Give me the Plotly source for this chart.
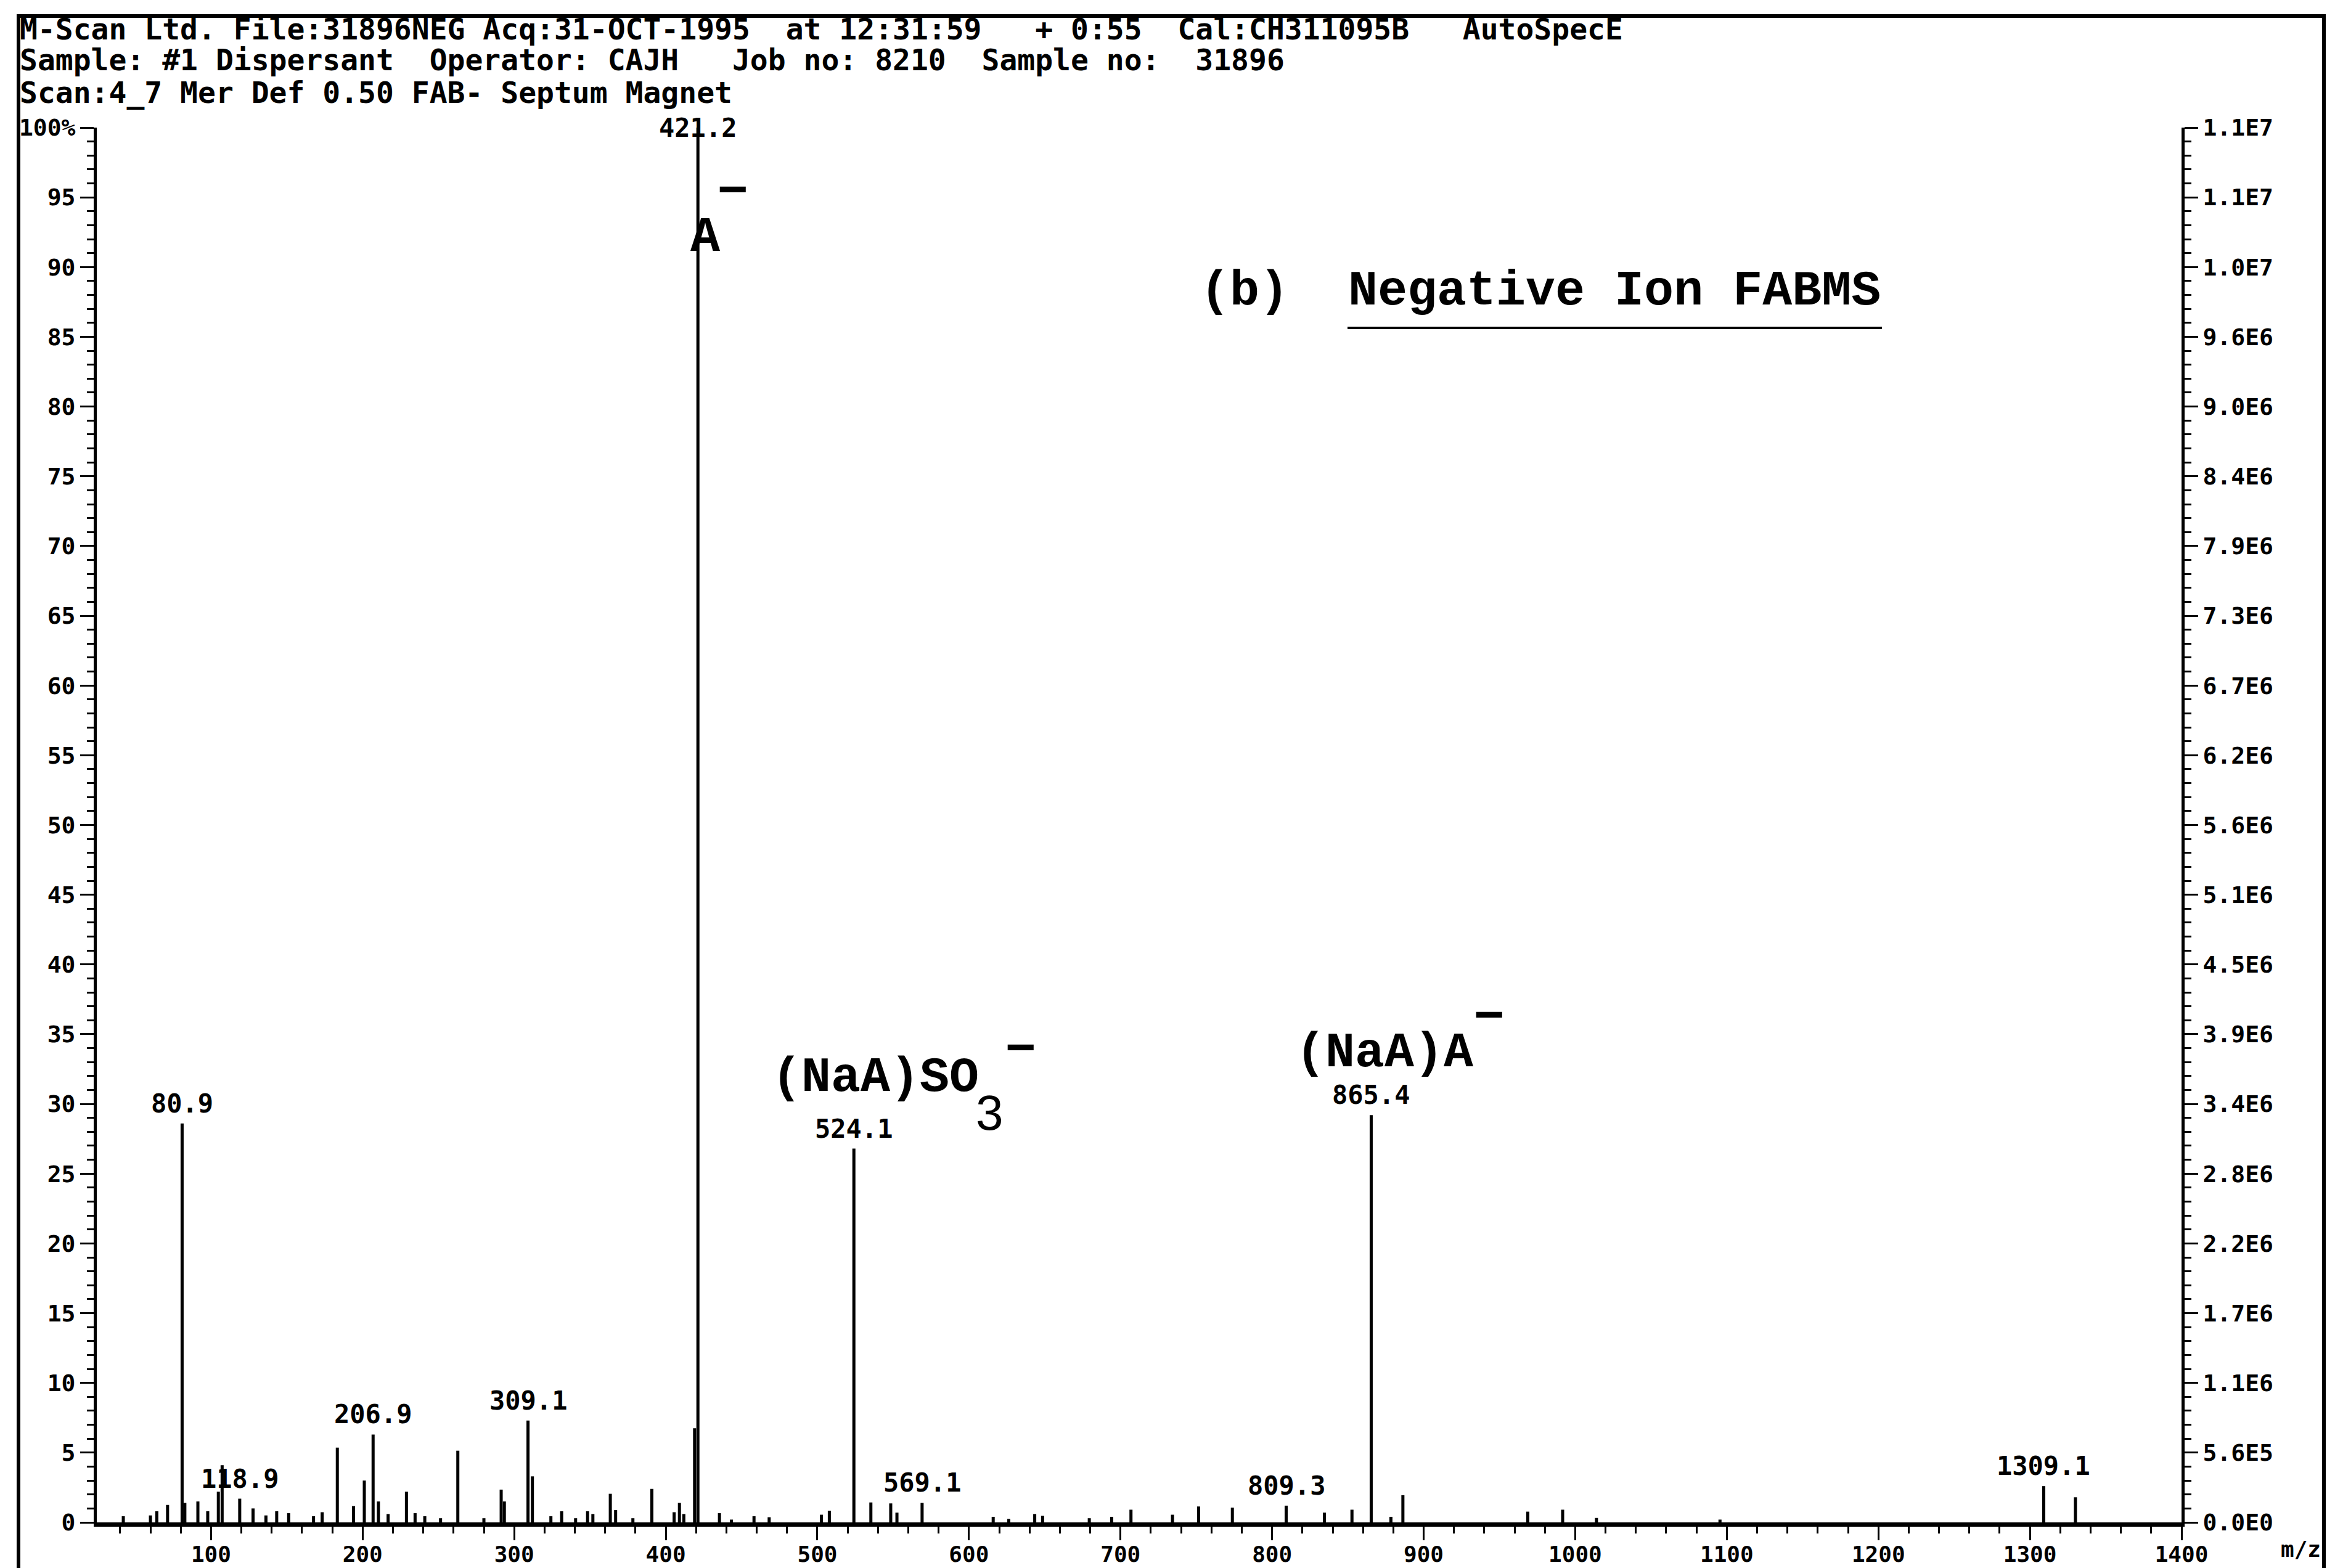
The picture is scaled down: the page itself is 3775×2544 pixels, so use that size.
import plotly.graph_objects as go

# ---- spectrum data: m/z and relative intensity (%) ----
mz = [42.1, 60.0, 64.2, 71.3, 80.9, 82.7, 91.3, 97.8, 104.8, 107.3,
      118.9, 127.7, 136.2, 143.3, 151.2, 167.6, 173.3, 183.3, 194.0, 201.1,
      206.9, 210.4, 216.8, 228.9, 234.6, 241.0, 251.4, 262.8, 280.0, 291.4,
      293.5, 309.1, 312.0, 324.2, 331.3, 340.5, 348.4, 351.9, 363.4, 366.9,
      378.3, 390.8, 405.5, 409.0, 411.9, 419.0, 421.2, 435.4, 443.3, 458.2,
      468.2, 502.7, 507.9, 524.1, 535.3, 548.4, 552.5, 569.1, 616.0, 626.3,
      643.4, 648.6, 679.4, 694.2, 706.9, 734.3, 751.5, 773.8, 809.3, 834.5,
      852.7, 865.4, 878.4, 886.3, 968.7, 991.7, 1014.0, 1095.5, 1309.1, 1330.0]
intensity = [0.44, 0.5, 0.8, 1.25, 28.6, 1.4, 1.5, 0.8, 2.2, 4.1,
             1.7, 1.0, 0.5, 0.8, 0.66, 0.44, 0.73, 5.36, 1.17, 3.0,
             6.3, 1.5, 0.6, 2.2, 0.66, 0.44, 0.3, 5.14, 0.3, 2.35,
             1.5, 7.3, 3.3, 0.44, 0.8, 0.3, 0.8, 0.6, 2.05, 0.88,
             0.3, 2.4, 0.73, 1.4, 0.6, 6.75, 100.0, 0.66, 0.2, 0.44,
             0.37, 0.55, 0.84, 26.8, 1.43, 1.36, 0.7, 1.4, 0.4, 0.25,
             0.6, 0.47, 0.3, 0.4, 0.91, 0.55, 1.14, 1.06, 1.2, 0.7,
             0.91, 29.2, 0.4, 1.95, 0.77, 0.91, 0.32, 0.2, 2.6, 1.8]

# peaks carrying an m/z label
labelled = [80.9, 118.9, 206.9, 309.1, 421.2, 524.1, 569.1, 809.3, 865.4, 1309.1]

# axis scales
x_range = [24.6, 1400]
pct_ticks = list(range(0, 101, 5))
pct_text = [str(v) for v in pct_ticks[:-1]] + ["100%"]
abs_text = ["0.0E0", "5.6E5", "1.1E6", "1.7E6", "2.2E6", "2.8E6", "3.4E6",
            "3.9E6", "4.5E6", "5.1E6", "5.6E6", "6.2E6", "6.7E6", "7.3E6",
            "7.9E6", "8.4E6", "9.0E6", "9.6E6", "1.0E7", "1.1E7", "1.1E7"]

header = [
    "M-Scan Ltd. File:31896NEG Acq:31-OCT-1995  at 12:31:59   + 0:55  Cal:CH311095B   AutoSpecE",
    "Sample: #1 Dispersant  Operator: CAJH   Job no: 8210  Sample no:  31896",
    "Scan:4_7 Mer Def 0.50 FAB- Septum Magnet",
]

# ---- page geometry (pixels) ----
W, H = 3775, 2544
ML, MR, MT, MB = 157, 236, 207, 74
PW, PH = W - ML - MR, H - MT - MB


def px(x):
    return (x - ML) / PW


def py(y):
    return (H - MB - y) / PH


def nb(s):
    return s.replace(" ", "\u00a0")


MONO = "DejaVu Sans Mono"
SERIF_MONO = "Liberation Mono"

# stick spectrum: one vertical segment per peak
xs, ys = [], []
for m, h in zip(mz, intensity):
    xs += [m, m, None]
    ys += [0, h, None]

fig = go.Figure()
fig.add_trace(go.Scatter(x=xs, y=ys, mode="lines",
                         line=dict(color="black", width=5),
                         hoverinfo="skip", showlegend=False))
fig.add_trace(go.Scatter(x=[x_range[0]], y=[0], yaxis="y2", mode="markers",
                         marker=dict(opacity=0), hoverinfo="skip",
                         showlegend=False))

annotations = []
for m, h in zip(mz, intensity):
    if m in labelled:
        top = h >= 100
        annotations.append(dict(
            x=m, y=h, xref="x", yref="y", text=f"{m:.1f}", showarrow=False,
            xanchor="center", yanchor="middle" if top else "bottom",
            yshift=0 if top else 6,
            font=dict(family=MONO, size=42, color="black", weight="bold")))

for i, line in enumerate(header):
    annotations.append(dict(
        x=px(30), y=py([47, 97, 150][i]), xref="paper", yref="paper",
        text=nb(line), showarrow=False, xanchor="left", yanchor="middle",
        font=dict(family=MONO, size=48, color="black", weight="bold")))

big = dict(family=SERIF_MONO, size=80, color="black", weight="bold")
bar = dict(family="Liberation Sans", size=84, color="black", weight="bold")


def text_at(x, y, s, font, anchor="left"):
    annotations.append(dict(x=px(x), y=py(y), xref="paper", yref="paper",
                            text=nb(s), showarrow=False, xanchor=anchor,
                            yanchor="middle", font=font))


text_at(1118, 385, "A", big)
text_at(1188, 306, "\u2212", bar, "center")
text_at(1945, 472, "(b)  Negative Ion FABMS", big)
text_at(1250, 1748, "(NaA)SO", big)
text_at(1605, 1805, "3", dict(family="Liberation Sans", size=80, color="black"), "center")
text_at(1655, 1698, "\u2212", bar, "center")
text_at(2100, 1708, "(NaA)A", big)
text_at(2415, 1645, "\u2212", bar, "center")
text_at(3698, 2514, "m/z", dict(family=MONO, size=36, color="black", weight="bold"))

shapes = [
    dict(type="line", xref="paper", yref="paper", x0=px(2186), x1=px(3053),
         y0=py(532), y1=py(532), line=dict(color="black", width=4)),
    dict(type="rect", xref="paper", yref="paper", x0=px(30), x1=px(3770),
         y0=py(2620), y1=py(26), line=dict(color="black", width=6)),
]

tickfont = dict(family=MONO, size=38, color="black", weight="bold")
xtickfont = dict(family=MONO, size=36, color="black", weight="bold")
minor = dict(ticks="outside", ticklen=11, tickwidth=3, tickcolor="black",
             showgrid=False)

fig.update_layout(
    width=W, height=H,
    margin=dict(l=ML, r=MR, t=MT, b=MB, pad=0, autoexpand=False),
    paper_bgcolor="white", plot_bgcolor="white",
    showlegend=False,
    annotations=annotations, shapes=shapes,
    xaxis=dict(range=x_range, tick0=0, dtick=100, ticks="outside",
               ticklen=22, tickwidth=3, tickcolor="black",
               showline=True, linewidth=7, linecolor="black",
               showgrid=False, zeroline=False, tickfont=xtickfont,
               ticklabelstandoff=-8,
               automargin=False, minor=dict(dtick=20, **minor)),
    yaxis=dict(range=[0, 100], tickmode="array", tickvals=pct_ticks,
               ticktext=pct_text, ticks="outside", ticklen=22, tickwidth=3,
               tickcolor="black", showline=True, linewidth=5,
               linecolor="black", showgrid=False, zeroline=False,
               tickfont=tickfont, automargin=False,
               minor=dict(dtick=1, **minor)),
    yaxis2=dict(range=[0, 100], overlaying="y", side="right",
                tickmode="array", tickvals=pct_ticks, ticktext=abs_text,
                ticks="outside", ticklen=22, tickwidth=3, tickcolor="black",
                showline=True, linewidth=5, linecolor="black",
                showgrid=False, zeroline=False, tickfont=tickfont,
                automargin=False, minor=dict(dtick=1, **minor)),
)

fig.write_html("out.html")
